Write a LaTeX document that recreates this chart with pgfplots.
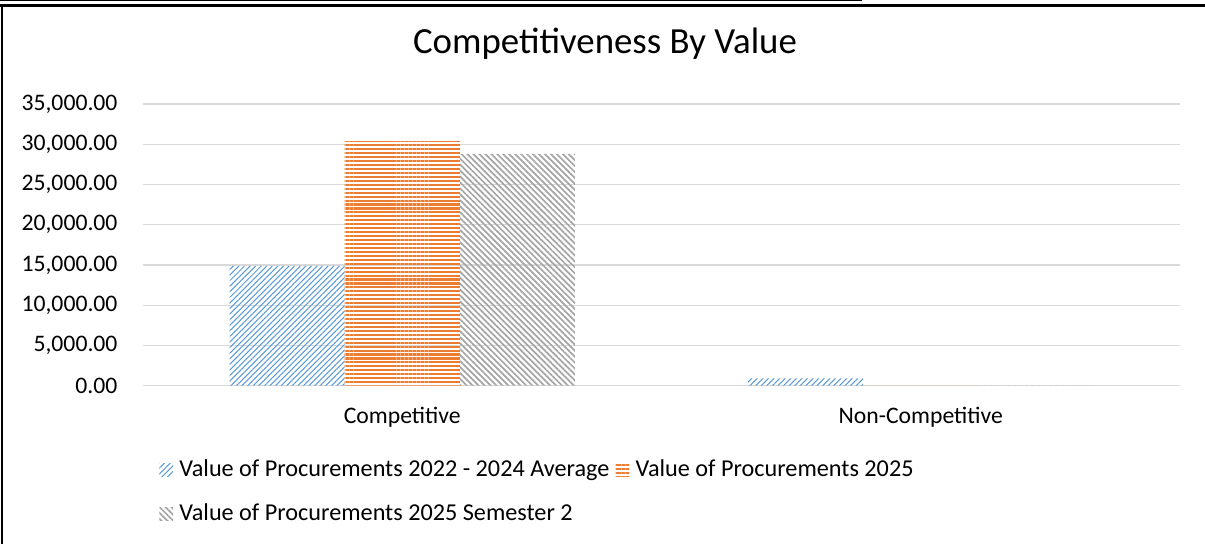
\documentclass[border=0pt]{standalone}
\usepackage{fontspec}
\setmainfont{Carlito}
\usepackage{pgfplots}
\pgfplotsset{compat=1.18}
\usetikzlibrary{patterns.meta}
\definecolor{cblue}{HTML}{5B9BD5}
\definecolor{corange}{HTML}{ED7D31}
\definecolor{cgray}{HTML}{A5A5A5}
\definecolor{cgrid}{HTML}{D9D9D9}
\begin{document}
\begin{tikzpicture}
\begin{scope}[x=0.38pt,y=0.38pt]
\useasboundingbox (0,0) rectangle (1205,544);
\draw[line width=0.45pt] (0,543.4) -- (862,543.4);
\draw[line width=0.8pt] (0,538.5) -- (1205,538.5);
\draw[line width=0.8pt] (2,538.5) -- (2,0);
\node[font=\fontsize{14}{17}\selectfont, inner sep=0pt, anchor=base] at (605,490) {Competitiveness By Value};
\end{scope}
\begin{axis}[
  at={(54.34pt,60.15pt)}, anchor=south west,
  scale only axis, width=394.06pt, height=107.05pt,
  xmin=-0.5, xmax=1.5, ymin=0, ymax=35000,
  ybar=0pt, bar width=0.222,
  xtick={0,1}, xticklabels={Competitive,Non-Competitive},
  ytick={0,5000,...,35000},
  ymajorgrids, grid style={cgrid, line width=0.5pt},
  axis line style={draw=none},
  major tick length=0pt,
  tick label style={font=\fontsize{9}{11}\selectfont},
  scaled y ticks=false,
  yticklabel style={anchor=east, inner sep=0pt, xshift=-9.5pt,
    /pgf/number format/.cd, fixed, fixed zerofill, precision=2, 1000 sep={,}, assume math mode=true},
  xticklabel style={anchor=north, inner sep=0pt, yshift=-8pt},
  legend columns=2,
  legend cell align=left,
  legend image code/.code={\fill[#1] (0pt,-2.5pt) rectangle (5.2pt,2.5pt);},
  legend style={draw=none, fill=none, inner sep=0pt, anchor=north west, at={(0.0154,-0.262)},
    font=\fontsize{9.2}{11}\selectfont, nodes={inner sep=0pt}, column sep=2.4pt, row sep=8.6pt},
]
\addplot[draw=none, pattern={Lines[angle=45,distance=1.5pt,line width=0.4pt]}, pattern color=cblue]
  coordinates {(0,14900) (1,900)};
\addlegendentry{Value of Procurements 2022 - 2024 Average}
\addplot[draw=none, pattern={Lines[angle=0,distance=1.5pt,line width=0.8pt]}, pattern color=corange]
  coordinates {(0,30400) (1,0)};
\addlegendentry{Value of Procurements 2025}
\addplot[draw=none, pattern={Lines[angle=-45,distance=1.6pt,line width=0.65pt]}, pattern color=cgray]
  coordinates {(0,28800) (1,0)};
\addlegendentry{Value of Procurements 2025 Semester 2}
\end{axis}
\end{tikzpicture}
\end{document}
